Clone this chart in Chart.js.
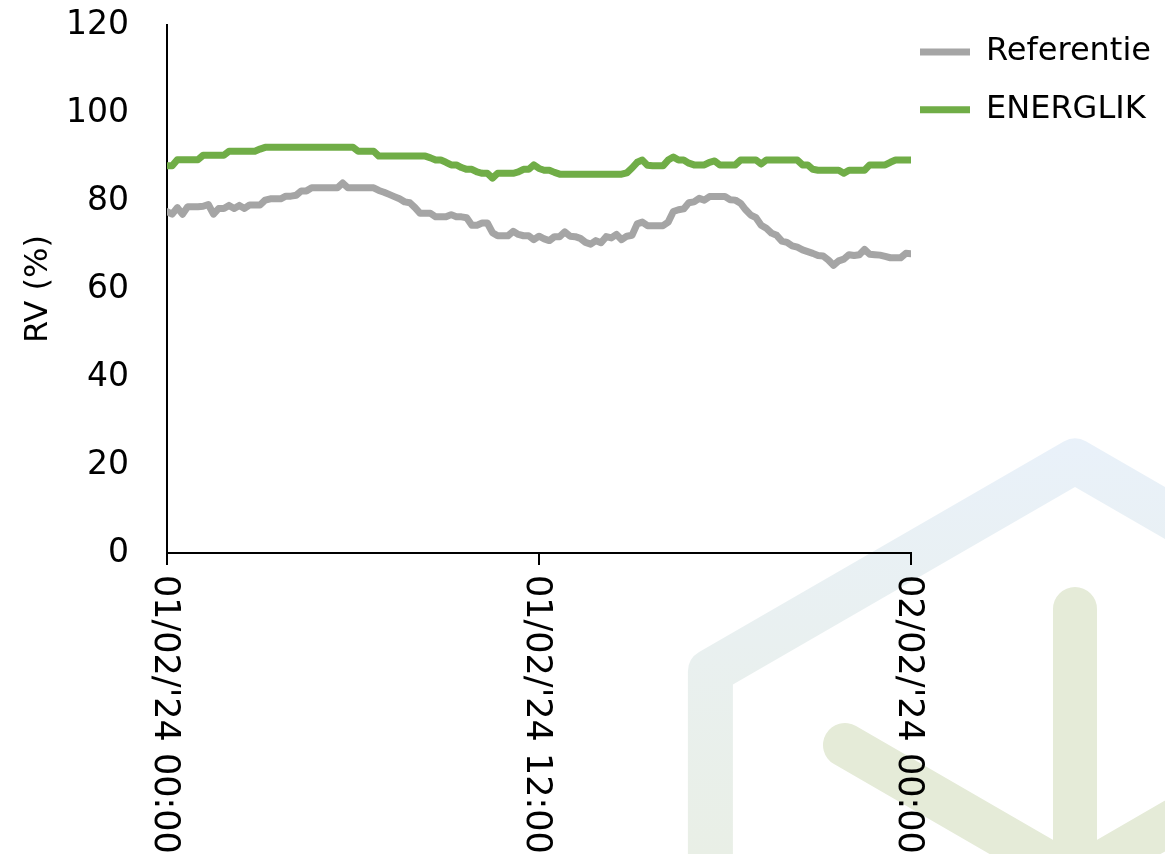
<!DOCTYPE html>
<html>
<head>
<meta charset="utf-8">
<script src="https://cdn.jsdelivr.net/npm/chart.js@4.4.1/dist/chart.umd.min.js"></script>
<style>
  html, body { margin: 0; padding: 0; background: #fff; }
  canvas { display: block; }
</style>
</head>
<body>
<canvas id="chart1" width="1165" height="854"></canvas>
<script>
// one reading every 10 minutes, 01/02 00:00 -> 02/02 00:00
const stepHours = 10 / 60;
const tickLabels = ["01/02/'24 00:00", "01/02/'24 12:00", "02/02/'24 00:00"];
const seriesNames = ['Referentie', 'ENERGLIK'];

const referentie = [
    77.6, 77.0, 78.5, 77.0, 78.7, 78.7, 78.7, 78.8, 79.2, 77.0,
    78.3, 78.3, 79.0, 78.3, 79.0, 78.3, 79.1, 79.1, 79.1, 80.2,
    80.5, 80.5, 80.5, 81.1, 81.1, 81.3, 82.3, 82.3, 83.0, 83.0,
    83.0, 83.0, 83.0, 83.0, 84.1, 83.0, 83.0, 83.0, 83.0, 83.0,
    83.0, 82.4, 82.0, 81.5, 81.0, 80.5, 79.8, 79.6, 78.5, 77.2,
    77.2, 77.2, 76.4, 76.4, 76.4, 76.9, 76.4, 76.4, 76.2, 74.5,
    74.5, 75.0, 75.0, 72.8, 72.1, 72.1, 72.1, 73.1, 72.4, 72.1,
    72.1, 71.2, 72.0, 71.4, 71.0, 71.9, 71.9, 73.0, 72.0, 71.9,
    71.5, 70.6, 70.2, 71.0, 70.5, 71.9, 71.6, 72.4, 71.2, 72.0,
    72.2, 74.8, 75.2, 74.4, 74.4, 74.4, 74.4, 75.2, 77.6, 78.0,
    78.2, 79.6, 79.8, 80.6, 80.2, 81.0, 81.0, 81.0, 81.0, 80.3,
    80.2, 79.5, 78.0, 76.8, 76.2, 74.5, 73.8, 72.7, 72.2, 70.9,
    70.6, 69.8, 69.5, 68.9, 68.5, 68.1, 67.6, 67.5, 66.6, 65.4,
    66.4, 66.8, 67.8, 67.6, 67.8, 69.0, 67.9, 67.8, 67.7, 67.4,
    67.1, 67.1, 67.1, 68.1, 68.0
];

const energlik = [
    88.0, 88.0, 89.4, 89.4, 89.4, 89.4, 89.4, 90.4, 90.4, 90.4,
    90.4, 90.4, 91.3, 91.3, 91.3, 91.3, 91.3, 91.3, 91.8, 92.2,
    92.2, 92.2, 92.2, 92.2, 92.2, 92.2, 92.2, 92.2, 92.2, 92.2,
    92.2, 92.2, 92.2, 92.2, 92.2, 92.2, 92.2, 91.3, 91.3, 91.3,
    91.3, 90.2, 90.2, 90.2, 90.2, 90.2, 90.2, 90.2, 90.2, 90.2,
    90.2, 89.8, 89.3, 89.3, 88.8, 88.2, 88.2, 87.6, 87.2, 87.2,
    86.6, 86.3, 86.3, 85.2, 86.3, 86.3, 86.3, 86.3, 86.6, 87.2,
    87.2, 88.2, 87.4, 87.0, 87.0, 86.5, 86.1, 86.1, 86.1, 86.1,
    86.1, 86.1, 86.1, 86.1, 86.1, 86.1, 86.1, 86.1, 86.1, 86.4,
    87.5, 88.8, 89.3, 88.1, 88.0, 88.0, 88.0, 89.3, 90.0, 89.3,
    89.3, 88.6, 88.2, 88.2, 88.2, 88.8, 89.1, 88.2, 88.2, 88.2,
    88.2, 89.3, 89.3, 89.3, 89.3, 88.4, 89.3, 89.3, 89.3, 89.3,
    89.3, 89.3, 89.3, 88.2, 88.2, 87.2, 87.0, 87.0, 87.0, 87.0,
    87.0, 86.3, 87.0, 87.0, 87.0, 87.0, 88.2, 88.2, 88.2, 88.2,
    88.8, 89.3, 89.3, 89.3, 89.3
];

function toPoints(values) {
    return values.map((v, i) => ({ x: i * stepHours, y: v }));
}

// faint logo in the background (bottom right)
const watermark = {
    id: 'watermark',
    beforeDraw(chart) {
        const ctx = chart.ctx;
        ctx.save();
        const cx = 1075, cy = 882, r = 421;
        const grad = ctx.createLinearGradient(0, 430, 0, 854);
        grad.addColorStop(0, '#e9f1fa');
        grad.addColorStop(1, '#e9efe6');
        ctx.strokeStyle = grad;
        ctx.lineWidth = 45;
        ctx.lineJoin = 'round';
        ctx.beginPath();
        for (let k = 0; k < 6; k++) {
            const a = (-90 + k * 60) * Math.PI / 180;
            const px = cx + r * Math.cos(a);
            const py = cy + r * Math.sin(a);
            if (k === 0) ctx.moveTo(px, py); else ctx.lineTo(px, py);
        }
        ctx.closePath();
        ctx.stroke();

        ctx.strokeStyle = '#e5ebd8';
        ctx.lineWidth = 44;
        ctx.lineCap = 'round';
        ctx.beginPath();
        ctx.moveTo(1075, 609);
        ctx.lineTo(1075, 900);
        ctx.moveTo(845, 745);
        ctx.lineTo(1075, 878);
        ctx.lineTo(1300, 748);
        ctx.stroke();
        ctx.restore();
    }
};

// vertical x labels, read top to bottom
const xLabels = {
    id: 'xLabels',
    afterDraw(chart) {
        const scale = chart.scales.x;
        const ctx = chart.ctx;
        ctx.save();
        ctx.font = '35px "DejaVu Sans"';
        ctx.fillStyle = '#000';
        ctx.textAlign = 'left';
        ctx.textBaseline = 'middle';
        scale.ticks.forEach((tick, i) => {
            const x = scale.getPixelForValue(tick.value);
            ctx.save();
            ctx.translate(x - 3, scale.top + 22);
            ctx.rotate(Math.PI / 2);
            ctx.fillText(tickLabels[i], 0, 0);
            ctx.restore();
        });
        ctx.restore();
    }
};

Chart.defaults.font.family = '"DejaVu Sans"';
Chart.defaults.color = '#000';

const ctx1 = document.getElementById('chart1').getContext('2d');

const chart1 = new Chart(ctx1, {
    type: 'line',
    data: {
        datasets: [{
            label: seriesNames[0],
            data: toPoints(referentie),
            borderColor: '#a5a5a5',
            backgroundColor: '#a5a5a5',
            borderWidth: 7,
            borderJoinStyle: 'round',
            borderCapStyle: 'round',
            pointRadius: 0,
            fill: false
        }, {
            label: seriesNames[1],
            data: toPoints(energlik),
            borderColor: '#70ad47',
            backgroundColor: '#70ad47',
            borderWidth: 7,
            borderJoinStyle: 'round',
            borderCapStyle: 'round',
            pointRadius: 0,
            fill: false
        }]
    },
    options: {
        responsive: false,
        animation: false,
        layout: {
            padding: { top: 25, right: 14, left: 0, bottom: 0 }
        },
        plugins: {
            tooltip: { enabled: false },
            legend: {
                position: 'right',
                align: 'start',
                maxWidth: 240,
                title: {
                    display: true,
                    text: '',
                    font: { size: 1, lineHeight: 1 },
                    padding: { top: 1, bottom: 0 }
                },
                labels: {
                    usePointStyle: true,
                    pointStyle: 'line',
                    boxWidth: 50,
                    pointStyleWidth: 50,
                    padding: 9,
                    color: '#000',
                    font: { size: 32, lineHeight: 1.52 },
                    generateLabels(chart) {
                        const items = Chart.defaults.plugins.legend.labels.generateLabels(chart);
                        // single-line array text so the row height follows the font line height
                        items.forEach(item => { item.text = [item.text]; });
                        return items;
                    }
                }
            }
        },
        scales: {
            x: {
                type: 'linear',
                min: 0,
                max: 24,
                ticks: {
                    stepSize: 12,
                    display: false
                },
                grid: {
                    drawOnChartArea: false,
                    drawTicks: true,
                    tickLength: 12,
                    color: '#000',
                    lineWidth: 2
                },
                border: { color: '#000', width: 2 },
                afterFit(scale) { scale.height = 301; }
            },
            y: {
                min: 0,
                max: 120,
                ticks: {
                    stepSize: 20,
                    padding: 0,
                    font: { size: 33 },
                    color: '#000'
                },
                grid: {
                    drawOnChartArea: false,
                    drawTicks: true,
                    tickLength: 38,
                    tickColor: 'rgba(0,0,0,0)'
                },
                border: { color: '#000', width: 2 },
                title: {
                    display: true,
                    text: 'RV (%)',
                    color: '#000',
                    font: { size: 32 },
                    padding: { top: 19, bottom: 0 }
                },
                afterFit(scale) { scale.width = 167; }
            }
        }
    },
    plugins: [watermark, xLabels]
});
</script>
</body>
</html>
